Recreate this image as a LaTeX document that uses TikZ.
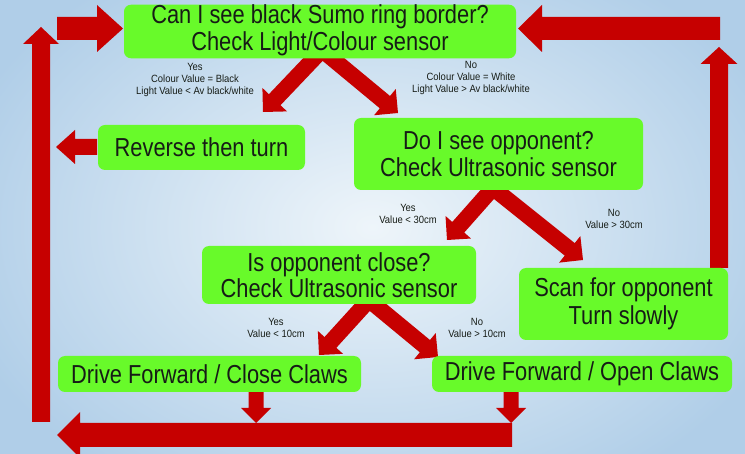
\documentclass[tikz,border=0pt]{standalone}
\usepackage{fontspec}
\setmainfont{Liberation Sans}
\newfontfamily\boxfont[FakeStretch=0.84]{Liberation Sans}
\newfontfamily\lblfont[FakeStretch=0.9]{Liberation Sans}
\usetikzlibrary{calc}
\definecolor{bgA}{RGB}{238,245,250}
\definecolor{bgB}{RGB}{176,206,232}
\definecolor{boxgreen}{RGB}{104,250,42}
\definecolor{arrowred}{RGB}{198,0,0}
\definecolor{txt}{RGB}{22,28,22}
% block arrow: #1 start, #2 tip, #3 shaft half width, #4 head half width, #5 head length
\newcommand\blockarrow[5]{%
  \coordinate (babase) at ($(#2)!#5!(#1)$);
  \fill[arrowfill] ($(#1)!#3!90:(#2)$) -- ($(babase)!#3!90:(#2)$) -- ($(babase)!#4!90:(#2)$) -- (#2)
    -- ($(babase)!#4!-90:(#2)$) -- ($(babase)!#3!-90:(#2)$) -- ($(#1)!#3!-90:(#2)$) -- cycle;}
\begin{document}
\begin{tikzpicture}[x=1pt,y=-1pt,
  box/.style={fill=boxgreen, rounded corners=7pt, text=txt, align=center, inner sep=0pt,
    font=\boxfont\fontsize{26}{26.5}\selectfont},
  lbl/.style={text=txt, align=center, inner sep=0pt, font=\lblfont\fontsize{10.5}{11.8}\selectfont},
  arrowfill/.style={fill=arrowred}]
\useasboundingbox (0,0) rectangle (745,454);
\clip (0,0) rectangle (745,454);
\shade[inner color=bgA, outer color=bgB] (-60,-80) rectangle (805,534);

% named end points of the block arrows
\coordinate (lvS) at (41,422);   \coordinate (lvT) at (41,27);
\coordinate (tlS) at (57,28.5);  \coordinate (tlT) at (123,28.5);
\coordinate (trS) at (720,28.5); \coordinate (trT) at (518,28.5);
\coordinate (rvS) at (719,268);  \coordinate (rvT) at (719,47);
\coordinate (rtS) at (97,147);   \coordinate (rtT) at (56,147);
\coordinate (btS) at (512,435);  \coordinate (btT) at (57,435);
\coordinate (dcS) at (256,392);  \coordinate (dcT) at (256,423);
\coordinate (doS) at (511,392);  \coordinate (doT) at (511,423);
\coordinate (v1) at (322,50);  \coordinate (v1L) at (263,112); \coordinate (v1R) at (398,113);
\coordinate (v2) at (493,188); \coordinate (v2L) at (447,240); \coordinate (v2R) at (583,260);
\coordinate (v3) at (369,300); \coordinate (v3L) at (319,355); \coordinate (v3R) at (438,357);

\blockarrow{lvS}{lvT}{9pt}{18pt}{17pt}
\blockarrow{tlS}{tlT}{11.5pt}{23.5pt}{26pt}
\blockarrow{trS}{trT}{11.5pt}{23.5pt}{24pt}
\blockarrow{rvS}{rvT}{9pt}{18.5pt}{17pt}
\blockarrow{rtS}{rtT}{8pt}{17pt}{19pt}
\blockarrow{btS}{btT}{12pt}{23pt}{23pt}
\blockarrow{dcS}{dcT}{7.5pt}{15pt}{15pt}
\blockarrow{doS}{doT}{7.5pt}{15pt}{15pt}
\blockarrow{v1}{v1L}{8pt}{17pt}{17pt}
\blockarrow{v1}{v1R}{8pt}{17pt}{17pt}
\blockarrow{v2}{v2L}{8pt}{17pt}{17pt}
\blockarrow{v2}{v2R}{8pt}{17pt}{17pt}
\blockarrow{v3}{v3L}{8pt}{17pt}{17pt}
\blockarrow{v3}{v3R}{8pt}{17pt}{17pt}

% boxes
\node[box, minimum width=392pt, minimum height=51pt] (top) at (320,31.5)
  {\raisebox{-2.5pt}{\begin{tabular}{@{}c@{}}Can I see black Sumo ring border?\\Check Light/Colour sensor\end{tabular}}};
\node[box, minimum width=207pt, minimum height=45pt] (rev) at (201.5,147.5) {Reverse then turn};
\node[box, minimum width=289pt, minimum height=72pt, font=\boxfont\fontsize{26}{27.5}\selectfont] (opp) at (498.5,154)
  {Do I see opponent?\\Check Ultrasonic sensor};
\node[box, minimum width=274pt, minimum height=58pt] (cls) at (339,275)
  {Is opponent close?\\Check Ultrasonic sensor};
\node[box, minimum width=209pt, minimum height=72pt, font=\boxfont\fontsize{26}{28}\selectfont] (scan) at (623.5,304)
  {Scan for opponent\\Turn slowly};
\node[box, minimum width=303pt, minimum height=36pt] (dfc) at (209.5,374) {Drive Forward / Close Claws};
\node[box, minimum width=300pt, minimum height=36pt] (dfo) at (582,374) {Drive Forward / Open Claws};

% labels
\node[lbl] (l1) at (195,80) {Yes\\Colour Value = Black\\Light Value < Av black/white};
\node[lbl] (r1) at (471,78) {No\\Colour Value = White\\Light Value > Av black/white};
\node[lbl] (l2) at (408,214) {Yes\\Value < 30cm};
\node[lbl] (r2) at (614,219) {No\\Value > 30cm};
\node[lbl] (l3) at (276,328) {Yes\\Value < 10cm};
\node[lbl] (r3) at (477,328) {No\\Value > 10cm};
\end{tikzpicture}
\end{document}
